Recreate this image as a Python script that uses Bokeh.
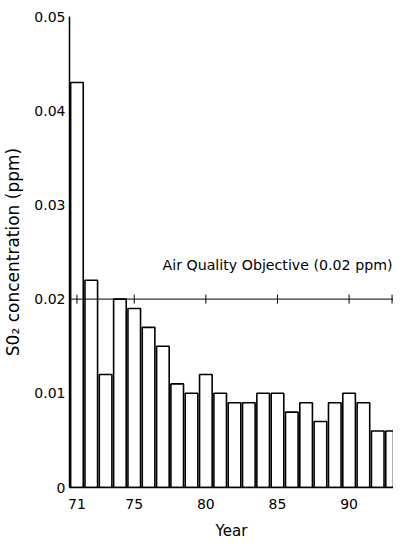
from bokeh.plotting import figure
from bokeh.models import Range1d, FixedTicker, Span, Label
from bokeh.embed import file_html
from bokeh.resources import INLINE

years = list(range(71, 94))
so2 = [0.043, 0.022, 0.012, 0.020, 0.019, 0.017, 0.015, 0.011, 0.010, 0.012,
       0.010, 0.009, 0.009, 0.010, 0.010, 0.008, 0.009, 0.007, 0.009, 0.010,
       0.009, 0.006, 0.006]
x_ticks = [71, 75, 80, 85, 90]
y_ticks = [0, 0.01, 0.02, 0.03, 0.04, 0.05]
y_tick_labels = {0: "0", 0.01: "0.01", 0.02: "0.02", 0.03: "0.03", 0.04: "0.04", 0.05: "0.05"}
objective = 0.02
objective_marks = [71, 75, 80, 85, 90, 93]
objective_text = "Air Quality Objective (0.02 ppm)"

FONT = "DejaVu Sans"

p = figure(width=393, height=543, output_backend="svg", toolbar_location=None,
           x_range=Range1d(70.48, 93.1), y_range=Range1d(0, 0.05),
           min_border_left=65, min_border_right=0, min_border_top=16, min_border_bottom=56)
p.outline_line_color = None
p.xgrid.grid_line_color = None
p.ygrid.grid_line_color = None
p.background_fill_color = "white"
p.border_fill_color = "white"

p.vbar(x=years, top=so2, width=0.88, bottom=0, fill_color="white",
       line_color="black", line_width=1.6)

p.add_layout(Span(location=objective, dimension="width", line_color="black", line_width=1))
p.scatter(x=objective_marks, y=[objective] * len(objective_marks), marker="dash",
          angle=1.5708, size=9, line_color="black", line_width=1)

p.add_layout(Label(x=93.03, y=0.0236, text=objective_text, text_align="right",
                   text_baseline="alphabetic", text_font=FONT, text_font_size="14.2px",
                   text_color="black"))

p.xaxis.ticker = FixedTicker(ticks=x_ticks)
p.yaxis.ticker = FixedTicker(ticks=y_ticks)
p.yaxis.major_label_overrides = y_tick_labels
for ax in (p.xaxis, p.yaxis):
    ax.axis_line_color = "black"
    ax.axis_line_width = 1.5
    ax.major_tick_line_color = None
    ax.minor_tick_line_color = None
    ax.major_tick_out = 0
    ax.major_tick_in = 0
    ax.major_label_text_font = FONT
    ax.major_label_text_color = "black"
    ax.axis_label_text_font = FONT
    ax.axis_label_text_font_style = "normal"
    ax.axis_label_text_color = "black"

p.xaxis.major_label_text_font_size = "14px"
p.yaxis.major_label_text_font_size = "14px"
p.xaxis.axis_label = "Year"
p.xaxis.axis_label_text_font_size = "15px"
p.xaxis.major_label_standoff = 11
p.xaxis.axis_label_standoff = 10
p.yaxis.axis_label = "S0₂ concentration (ppm)"
p.yaxis.axis_label_text_font_size = "17px"
p.yaxis.major_label_standoff = 4
p.yaxis.axis_label_standoff = 8

open("out.html", "w").write(file_html(p, INLINE))
